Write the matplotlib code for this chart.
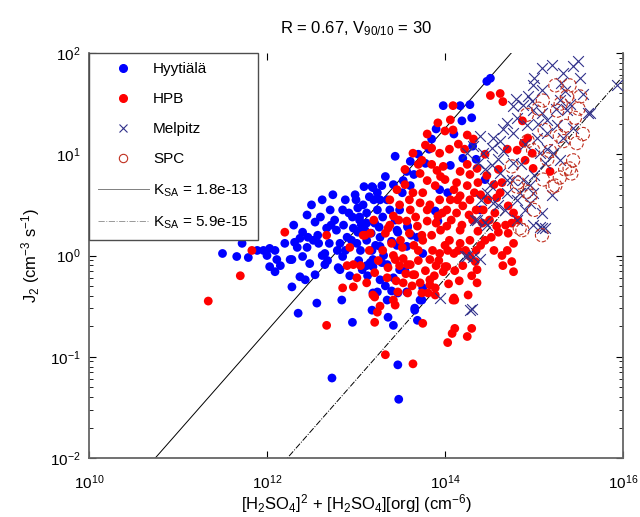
import numpy as np
import matplotlib
matplotlib.use('Agg')
import matplotlib.pyplot as plt
from matplotlib.lines import Line2D
from matplotlib.ticker import LogLocator, NullLocator

# all values are log10(x), log10(y)
hyy_lx = [11.66, 11.79, 11.89, 11.96, 12.03, 12.09, 12.00, 12.11, 12.03, 12.09, 12.28, 12.28, 12.35, 12.34, 12.37,
          12.40, 12.46, 12.45, 12.40, 12.37, 12.43, 12.54, 12.57, 12.54, 12.56, 12.67, 12.65, 12.71, 12.76, 12.78,
          12.82, 12.85, 12.82, 12.88, 12.96, 12.97, 13.04, 13.02, 13.12, 13.18, 13.24, 13.12, 13.18, 13.19, 12.84,
          12.96, 12.31, 12.26, 12.62, 12.65, 12.80, 12.88, 13.01, 13.02, 13.04, 13.12, 13.21, 13.24, 13.27, 13.07,
          13.16, 13.27, 13.35, 13.24, 13.18, 13.35, 13.47, 13.36, 13.42, 13.57, 13.66, 13.69, 13.72, 13.75, 13.47,
          13.46, 13.49, 13.58, 13.49, 13.69, 13.75, 13.47, 12.73, 13.48, 14.51, 14.47, 13.98, 14.17, 14.28, 14.30,
          14.19, 13.44, 13.61, 13.57, 13.78, 13.19, 13.29, 13.42, 13.53, 13.61, 13.27, 14.06, 14.20, 14.31, 13.46,
          13.58, 13.27, 13.40, 13.19, 13.29, 13.12, 13.42, 13.33, 13.19, 13.66, 13.74, 13.92, 14.03, 13.94, 13.89,
          13.57, 12.92, 13.00, 13.08, 13.10, 13.15, 12.95, 13.05, 12.70, 12.60, 12.50, 12.30, 11.50, 11.72, 13.30,
          13.35, 12.45, 14.35, 14.45, 14.40, 14.10, 13.85,
          12.58, 12.62, 12.68, 12.74, 12.79, 12.86, 12.90, 12.93, 12.99, 13.03, 13.06, 13.09, 13.13, 13.17, 13.20,
          13.22, 13.26, 13.31, 13.33, 13.38, 13.40, 13.44, 13.52, 13.55, 13.62, 13.65, 13.70, 13.82, 13.90, 12.20,
          12.15, 12.48, 12.52, 12.72, 12.85]
hyy_ly = [-0.01, -0.02, 0.05, 0.05, 0.07, 0.05, 0.00, -0.04, -0.11, -0.16, -0.04, -0.31, -0.57, 0.08, 0.17,
          0.23, 0.18, 0.08, -0.01, -0.21, -0.24, 0.33, 0.20, -0.19, -0.47, 0.27, 0.02, 0.45, 0.35, 0.25,
          0.12, -0.01, -0.14, 0.55, 0.38, 0.27, 0.38, 0.47, 0.32, 0.68, 0.62, 0.15, 0.05, -0.11, -0.44,
          -0.66, 0.13, -0.04, 0.00, -0.09, -0.12, 0.05, 0.12, 0.23, 0.35, 0.42, 0.32, 0.45, 0.18, -0.14,
          -0.07, -0.24, -0.09, -0.36, -0.54, -0.44, -0.37, -0.61, -0.69, -0.36, -0.52, -0.64, -0.44, -0.32, 0.23,
          0.10, -0.14, 0.28, 0.45, 0.18, 0.02, -1.08, -1.21, -1.42, 1.75, 1.72, 1.48, 1.48, 1.49, 1.36,
          1.33, 0.98, 0.93, 0.83, 0.91, 0.67, 0.69, 0.70, 0.74, 0.69, 0.55, 0.89, 0.96, 1.08, 0.25,
          0.29, 0.09, 0.14, -0.04, -0.07, -0.10, -0.22, -0.30, -0.37, -0.54, -0.44, 0.34, 0.62, 0.65, 0.44,
          0.09, 0.42, 0.55, 0.50, 0.25, 0.58, 0.15, 0.05, 0.12, 0.38, 0.50, 0.30, 0.02, 0.12, 0.38,
          0.55, 0.40, 0.95, 0.75, 0.45, 1.20, 1.15,
          0.12, 0.55, -0.05, 0.60, 0.05, 0.30, 0.18, -0.20, 0.60, -0.05, 0.30, 0.68, -0.20, 0.22, 0.55,
          0.10, 0.28, 0.00, 0.78, 0.45, -0.35, 0.35, 0.62, -0.15, 0.20, 0.80, 1.00, 1.05, 1.25, 0.12,
          -0.10, -0.08, 0.15, 0.30, 0.45]

hpb_lx = [11.34, 11.70, 11.83, 12.20, 12.67, 12.67, 12.85, 12.97, 13.19, 13.21, 13.24, 13.10, 12.93, 12.97, 13.01,
          13.12, 13.21, 13.35, 13.47, 13.44, 13.75, 13.33, 13.64, 13.16, 13.36, 13.42, 13.53, 13.58, 13.66, 13.72,
          13.83, 13.81, 13.89, 13.98, 14.00, 14.09, 14.26, 14.11, 14.30, 14.08, 14.25, 14.03, 14.36, 14.34, 14.64,
          14.75, 14.77, 14.77, 14.60, 14.71, 14.51, 14.62, 14.65, 14.09, 13.92, 14.06, 14.00, 14.09, 14.25, 13.78,
          13.85, 13.64, 13.74, 13.94, 13.98, 13.91, 13.72, 13.80, 13.89, 13.64, 14.17, 14.28, 14.25, 14.13, 14.36,
          14.17, 14.06, 14.37, 14.47, 13.46, 13.38, 13.49, 13.42, 13.61, 13.72, 13.83, 13.94, 13.57, 13.69, 13.80,
          13.92, 14.02, 14.13, 14.20, 14.28, 14.02, 14.17, 14.31, 14.43, 14.58, 14.64, 14.71, 14.77, 14.82, 14.75,
          14.58, 14.88, 14.93, 14.98, 14.99, 15.18, 14.87, 14.81, 14.90, 13.21, 13.44, 13.49, 13.61, 13.64, 13.53,
          13.58, 13.74, 13.83, 13.89, 13.83, 13.94, 14.02, 14.11, 14.03, 14.17, 14.28, 14.37, 14.28, 14.36, 14.11,
          13.42, 13.27, 13.08, 13.33, 13.38, 14.10, 13.50, 13.65, 13.75, 13.85, 13.95, 14.05, 14.15, 13.70, 13.90,
          14.20, 14.40, 14.50, 14.45, 13.60, 13.75, 14.10, 13.55, 13.95, 14.22, 14.32, 14.40, 14.55, 14.65,
          13.30, 13.36, 13.40, 13.45, 13.48, 13.52, 13.56, 13.60, 13.63, 13.67, 13.70, 13.74, 13.78, 13.80, 13.86,
          13.88, 13.90, 13.93, 13.97, 14.00, 14.04, 14.07, 14.10, 14.14, 14.16, 14.19, 14.23, 14.27, 14.30, 14.33,
          14.35, 14.42, 14.48, 14.52, 14.56, 14.62, 14.68, 14.70, 13.20, 13.25, 13.15, 13.05, 12.90, 13.55, 13.70,
          13.85, 14.05, 14.15, 13.80, 14.00, 14.35, 14.25, 14.45, 14.60, 14.70, 14.55]
hpb_ly = [-0.45, -0.20, 0.05, 0.23, 0.20, -0.69, -0.32, -0.31, -0.39, -0.66, -0.56, 0.20, 0.08, -0.09, -0.22,
          -0.27, -0.41, -0.22, -0.36, -0.49, -0.67, -0.98, -1.07, 0.22, 0.27, 0.00, -0.03, -0.09, -0.19, -0.27,
          -0.29, -0.37, -0.39, -0.16, -0.11, -0.44, -0.39, -0.72, -0.72, -0.77, -0.80, -0.86, -0.14, -0.06, 0.00,
          -0.06, -0.16, 0.12, 0.23, 0.22, 1.58, 1.60, 1.52, 1.48, 1.31, 1.34, 1.23, 1.24, 1.19, 1.09,
          1.06, 1.01, 0.94, 1.01, 0.88, 0.84, 0.81, 0.74, 0.69, 0.62, 0.83, 0.80, 0.69, 0.72, 0.86,
          0.59, 0.55, 0.72, 0.79, 0.65, 0.55, 0.50, 0.39, 0.45, 0.52, 0.50, 0.55, 0.34, 0.29, 0.34,
          0.39, 0.45, 0.42, 0.49, 0.55, 0.29, 0.25, 0.35, 0.45, 0.57, 0.72, 0.49, 0.42, 0.35, 0.32,
          0.29, 1.11, 1.16, 1.01, 0.86, 0.83, 1.33, 1.04, 0.94, -0.17, -0.04, -0.10, -0.09, -0.19, -0.27,
          -0.37, -0.37, -0.24, -0.32, -0.04, 0.02, -0.11, -0.15, 0.05, 0.12, 0.15, 0.24, -0.01, -0.27, -0.44,
          -0.44, -0.50, 0.20, 0.22, 0.30, -0.42, 0.15, 0.10, 0.15, 0.20, 0.25, 0.15, 0.05, 0.05, -0.10,
          -0.10, 0.10, 0.35, 0.15, 0.55, 0.62, 0.65, 0.85, 0.78, 1.05, 1.15, 0.60, 0.05, -0.10,
          0.05, -0.12, 0.12, -0.25, 0.35, 0.08, -0.18, 0.22, -0.30, 0.38, -0.05, 0.20, -0.15, 0.45, 0.05,
          -0.20, 0.32, -0.05, 0.42, 0.10, -0.28, 0.35, 0.02, 0.55, -0.25, 0.30, 0.05, 0.40, -0.20, 0.62,
          0.05, 0.32, 0.55, 0.18, 0.42, 0.62, 0.30, 0.05, 0.35, -0.05, 0.05, -0.10, -0.10, 0.70, 0.90,
          0.90, 1.05, 1.10, 1.20, 0.75, 0.45, 0.90, 1.00, 0.85, 1.05, 0.70]

mel_lx = [15.09, 15.20, 15.49, 15.44, 15.33, 15.52, 14.99, 15.09, 14.93, 14.98, 14.88, 14.99, 14.76, 15.29, 15.37,
          15.61, 15.93, 15.15, 15.26, 14.81, 14.92, 14.70, 14.76, 14.54, 14.39, 14.31, 14.62, 15.03, 15.15, 15.33,
          15.44, 14.25, 14.43, 14.53, 14.65, 14.76, 14.53, 14.37, 14.62, 14.75, 14.88, 15.07, 15.12, 15.21, 15.29,
          14.96, 14.99, 14.84, 14.70, 14.47, 14.54, 14.81, 14.96, 15.09, 14.99, 15.09, 14.81, 14.47, 14.36, 14.67,
          14.31, 14.22, 13.94, 14.28, 15.09, 15.63, 15.35, 14.30, 14.25, 14.39, 14.34, 14.45, 15.07, 15.12,
          14.60, 14.70, 14.85, 14.90, 15.00, 15.05, 15.15, 15.25, 15.30, 15.40, 15.55, 14.50, 14.45, 14.65, 14.80,
          15.00, 15.20, 14.90, 14.60, 14.40]
mel_ly = [1.85, 1.88, 1.92, 1.87, 1.80, 1.75, 1.68, 1.63, 1.58, 1.53, 1.49, 1.44, 1.48, 1.54, 1.44,
          1.41, 1.68, 1.34, 1.29, 1.36, 1.29, 1.31, 1.21, 1.16, 1.18, 1.08, 1.13, 1.16, 1.21, 1.16,
          1.26, 1.01, 1.01, 1.06, 1.03, 0.91, 0.89, 0.91, 0.81, 0.75, 0.75, 1.01, 0.91, 1.01, 0.94,
          0.70, 0.62, 0.62, 0.62, 0.62, 0.52, 0.55, 0.52, 0.42, 0.30, 0.27, 0.35, 0.30, 0.35, 0.45,
          -0.01, 0.00, -0.42, -0.54, 1.41, 1.41, 1.62, -0.53, 0.00, -0.03, 0.35, 0.33, 0.28, 0.27,
          0.95, 0.75, 0.90, 1.10, 0.80, 1.30, 1.05, 1.45, 1.70, 1.50, 1.60, 0.70, 0.85, 1.25, 1.55,
          1.75, 0.60, 0.45, 0.50, 0.55]

spc_lx = [15.24, 15.40, 15.52, 15.10, 15.26, 15.46, 15.12, 15.29, 15.48, 15.33, 14.93, 14.99, 15.18, 15.44, 15.40,
          15.42, 15.29, 15.24, 14.82, 14.96, 14.87, 15.09, 14.75, 14.92, 15.35, 15.21, 15.37, 14.81, 14.92, 14.84,
          15.05, 15.15, 15.30, 15.50, 15.55, 15.35, 15.00, 15.10]
spc_ly = [1.68, 1.68, 1.57, 1.53, 1.43, 1.36, 1.24, 1.18, 1.11, 1.13, 1.13, 1.04, 1.03, 0.94, 0.86,
          0.81, 0.77, 0.69, 0.72, 0.59, 0.25, 0.20, 0.88, 1.39, 1.28, 0.68, 1.57, 0.68, 0.63, 0.27,
          1.45, 0.95, 1.50, 1.45, 1.20, 0.85, 0.45, 0.75]

k_sa = [1.8e-13, 5.9e-15]
k_labels = ['K$_{SA}$ = 1.8e-13', 'K$_{SA}$ = 5.9e-15']
x_ticks = [1e10, 1e12, 1e14, 1e16]

plt.rcParams['font.family'] = ['Liberation Sans', 'DejaVu Sans']
plt.rcParams['mathtext.default'] = 'regular'

fig = plt.figure(figsize=(6.4, 5.17), dpi=100)
ax = fig.add_axes([89 / 640, 59 / 517, 534 / 640, 405 / 517])

ax.scatter(np.power(10.0, hyy_lx), np.power(10.0, hyy_ly), s=40, c='#0000ff', edgecolors='none', zorder=3)
ax.scatter(np.power(10.0, hpb_lx), np.power(10.0, hpb_ly), s=40, c='#ff0000', edgecolors='none', zorder=3)
ax.scatter(np.power(10.0, mel_lx), np.power(10.0, mel_ly), s=60, marker='x', c='#30308a', linewidths=0.8, zorder=4)
ax.scatter(np.power(10.0, spc_lx), np.power(10.0, spc_ly), s=90, marker='o', facecolors='none',
           edgecolors='#c03020', linewidths=0.8, linestyles='--', zorder=4)

xl = np.array([1e10, 1e16])
ax.plot(xl, k_sa[0] * xl, color='k', lw=0.7, ls='-', zorder=2)
ax.plot(xl, k_sa[1] * xl, color='k', lw=0.7, ls='-.', zorder=2)

ax.set_xscale('log')
ax.set_yscale('log')
ax.set_xlim(1e10, 1e16)
ax.set_ylim(1e-2, 1e2)
ax.set_xticks(x_ticks)
ax.xaxis.set_minor_locator(NullLocator())
ax.yaxis.set_major_locator(LogLocator(base=10.0))
ax.yaxis.set_minor_locator(LogLocator(base=10.0, subs=np.arange(2, 10)))

ax.tick_params(which='both', direction='in', top=True, right=True, labelsize=11)
ax.tick_params(axis='x', pad=11)
ax.tick_params(axis='y', pad=6)
ax.tick_params(which='major', length=5)
ax.tick_params(which='minor', length=3)
for side in ['left', 'bottom', 'right']:
    ax.spines[side].set_color('0.4')
    ax.spines[side].set_linewidth(1.3)
ax.spines['top'].set_visible(False)

ax.set_xlabel('[H$_2$SO$_4$]$^2$ + [H$_2$SO$_4$][org] (cm$^{-6}$)', fontsize=12, labelpad=0)
ax.set_ylabel('J$_2$ (cm$^{-3}$ s$^{-1}$)', fontsize=12, labelpad=6)
ax.set_title('R = 0.67, V$_{90/10}$ = 30', fontsize=12, pad=14)

handles = [
    Line2D([], [], ls='none', marker='o', ms=5.5, mfc='#0000ff', mec='#0000ff'),
    Line2D([], [], ls='none', marker='o', ms=5.5, mfc='#ff0000', mec='#ff0000'),
    Line2D([], [], ls='none', marker='x', ms=6, mec='#30308a', mew=0.8),
    Line2D([], [], ls='none', marker='o', ms=6, mfc='none', mec='#c03020', mew=0.8),
    Line2D([], [], color='0.5', lw=0.7, ls='-'),
    Line2D([], [], color='0.6', lw=0.7, ls='-.'),
]
labels = ['Hyytiälä', 'HPB', 'Melpitz', 'SPC'] + k_labels
leg = ax.legend(handles, labels, loc='upper left', bbox_to_anchor=(0, 1), borderaxespad=0,
                fancybox=False, framealpha=1, edgecolor='0.3', fontsize=11,
                handlelength=3.3, handletextpad=0.3, labelspacing=1.05, borderpad=0.6)
leg.get_frame().set_linewidth(1.0)
leg.set_zorder(5)

fig.savefig('out.png', dpi=100)
